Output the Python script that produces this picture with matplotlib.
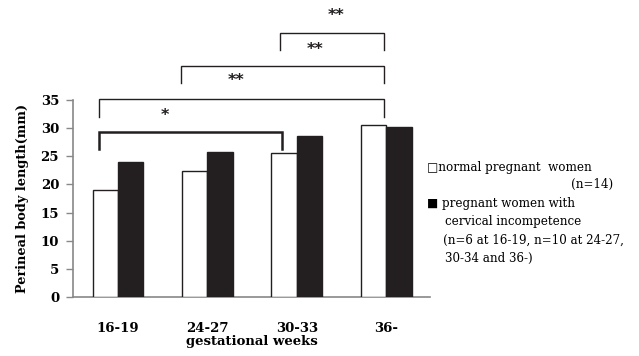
import matplotlib
matplotlib.use("Agg")
import matplotlib.pyplot as plt
import numpy as np

categories = ["16-19", "24-27", "30-33", "36-"]
normal = [19.0, 22.4, 25.5, 30.6]
incompetence = [24.0, 25.8, 28.6, 30.2]
yticks = [0, 5, 10, 15, 20, 25, 30, 35]

# significance brackets: (left x, right x, bracket y, drop y, label, label x, label y, linewidth)
brackets = [
    (-0.21, 1.83, 29.3, 26.3, "*", 0.52, 32.3, 1.8),
    (-0.21, 2.97, 35.2, 32.0, "**", 1.32, 38.5, 1.0),
    (0.70, 2.97, 41.0, 38.0, "**", 2.20, 44.0, 1.0),
    (1.81, 2.97, 46.9, 43.9, "**", 2.44, 50.1, 1.0),
]

plt.rcParams['font.family'] = ['DejaVu Serif']
fig = plt.figure(figsize=(6.39, 3.56), dpi=100)
ax = fig.add_axes([0.1142, 0.1657, 0.5587, 0.5534])

x = np.arange(len(categories))
w = 0.285
ax.bar(x - w / 2, normal, w, color="white", edgecolor="#231f20", linewidth=1.0, zorder=3)
ax.bar(x + w / 2, incompetence, w, color="#231f20", edgecolor="#231f20", linewidth=1.0, zorder=3)

ax.set_xlim(-0.504, 3.49)
ax.set_ylim(0, 35)
ax.set_yticks(yticks)
ax.set_xticks(x)
ax.set_xticklabels(categories, fontsize=9.5, fontweight="bold")
ax.tick_params(axis="x", length=0, pad=18)
ax.tick_params(axis="y", length=5, width=1.0, color="#888888", labelsize=9.5, pad=5)
for lab in ax.get_yticklabels():
    lab.set_fontweight("bold")
for s in ["top", "right"]:
    ax.spines[s].set_visible(False)
for s in ["left", "bottom"]:
    ax.spines[s].set_color("#888888")
    ax.spines[s].set_linewidth(1.2)

ax.set_xlabel("gestational weeks", fontsize=9.5, fontweight="bold", labelpad=0)
ax.set_ylabel("Perineal body length(mm)", fontsize=9.3, fontweight="bold", labelpad=8)

for x0, x1, yb, yd, lab, lx, ly, lw in brackets:
    ax.plot([x0, x0, x1, x1], [yd, yb, yb, yd], color="#231f20", lw=lw, clip_on=False,
            solid_joinstyle="miter", zorder=4)
    ax.text(lx, ly, lab, ha="center", va="center", fontsize=11.5, fontweight="bold",
            family="DejaVu Sans", color="#231f20", clip_on=False)

fs = 8.6
fig.text(0.668, 1 - 167 / 356, "\u25a1normal pregnant  women", fontsize=fs, va="center", ha="left")
fig.text(0.960, 1 - 184 / 356, "(n=14)", fontsize=fs, va="center", ha="right")
fig.text(0.668, 1 - 203 / 356, "\u25a0 pregnant women with", fontsize=fs, va="center", ha="left")
fig.text(0.697, 1 - 221 / 356, "cervical incompetence", fontsize=fs, va="center", ha="left")
fig.text(0.693, 1 - 240 / 356, "(n=6 at 16-19, n=10 at 24-27,", fontsize=fs, va="center", ha="left")
fig.text(0.697, 1 - 258 / 356, "30-34 and 36-)", fontsize=fs, va="center", ha="left")

fig.savefig("out.png", dpi=100)
